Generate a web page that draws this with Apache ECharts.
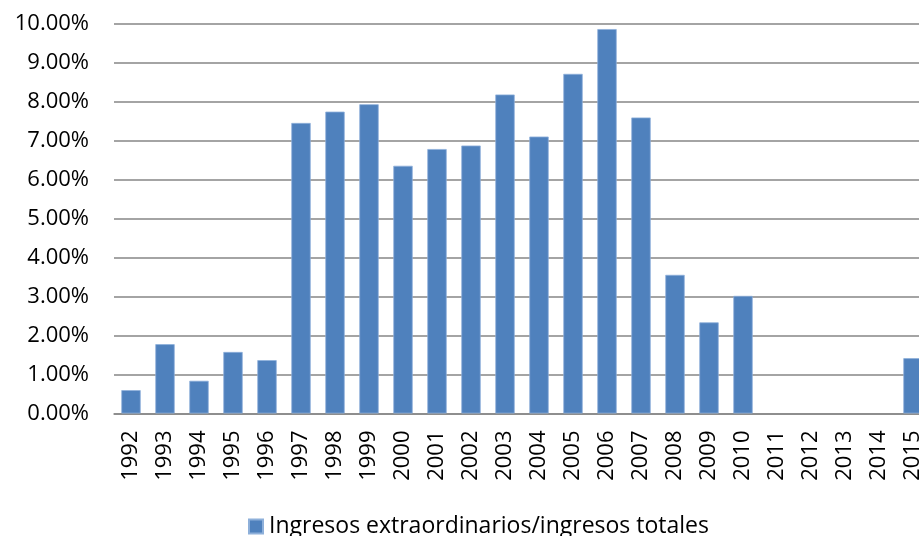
<!DOCTYPE html>
<html>
<head>
<meta charset="utf-8">
<script src="https://cdn.jsdelivr.net/npm/echarts@6/dist/echarts.min.js"></script>
<style>
  html, body { margin: 0; padding: 0; background: #ffffff; overflow: hidden; }
  /* the plot runs slightly past the right edge of the window */
  #chart { width: 930px; height: 536px; }
</style>
</head>
<body>
<div id="chart"></div>
<script>
// Años del eje horizontal
const years = ['1992','1993','1994','1995','1996','1997','1998','1999','2000','2001','2002','2003',
               '2004','2005','2006','2007','2008','2009','2010','2011','2012','2013','2014','2015'];
// Ingresos extraordinarios / ingresos totales (%)
const ratio = [0.60, 1.78, 0.84, 1.58, 1.37, 7.46, 7.75, 7.94, 6.36, 6.79, 6.88, 8.19,
               7.11, 8.72, 9.87, 7.60, 3.56, 2.34, 3.02, null, null, null, null, 1.42];
const seriesName = 'Ingresos extraordinarios/ingresos totales';

const FONT = '"Open Sans", Lato, sans-serif';
const chart = echarts.init(document.getElementById('chart'), null, { renderer: 'canvas' });
chart.setOption({
  animation: false,
  backgroundColor: '#ffffff',
  textStyle: { fontFamily: FONT },
  grid: { left: 114, top: 24, right: 0, bottom: 122.5, containLabel: false },
  legend: {
    top: 510,
    left: 243,
    itemWidth: 14,
    itemHeight: 14,
    itemGap: 6,
    icon: 'rect',
    textStyle: { fontFamily: FONT, fontSize: 23, color: '#000000', padding: [0, 0, 0, 1] },
    data: [seriesName]
  },
  xAxis: {
    type: 'category',
    data: years,
    axisLine: { show: true, lineStyle: { color: '#868686', width: 1.5 } },
    axisTick: { show: false },
    axisLabel: { rotate: 90, fontSize: 22, color: '#000000', margin: 17, fontFamily: FONT, interval: 0 }
  },
  yAxis: {
    type: 'value',
    min: 0,
    max: 10,
    interval: 1,
    axisLine: { show: false },
    axisTick: { show: false },
    axisLabel: {
      fontSize: 22, color: '#000000', margin: 25, fontFamily: FONT,
      formatter: v => v.toFixed(2) + '%'
    },
    splitLine: { show: true, lineStyle: { color: '#868686', width: 1.5 } }
  },
  series: [{
    name: seriesName,
    type: 'bar',
    data: ratio,
    barWidth: '57%',
    itemStyle: { color: '#4F81BD', borderColor: '#8EB0DA', borderWidth: 0.8 }
  }]
});
</script>
</body>
</html>
